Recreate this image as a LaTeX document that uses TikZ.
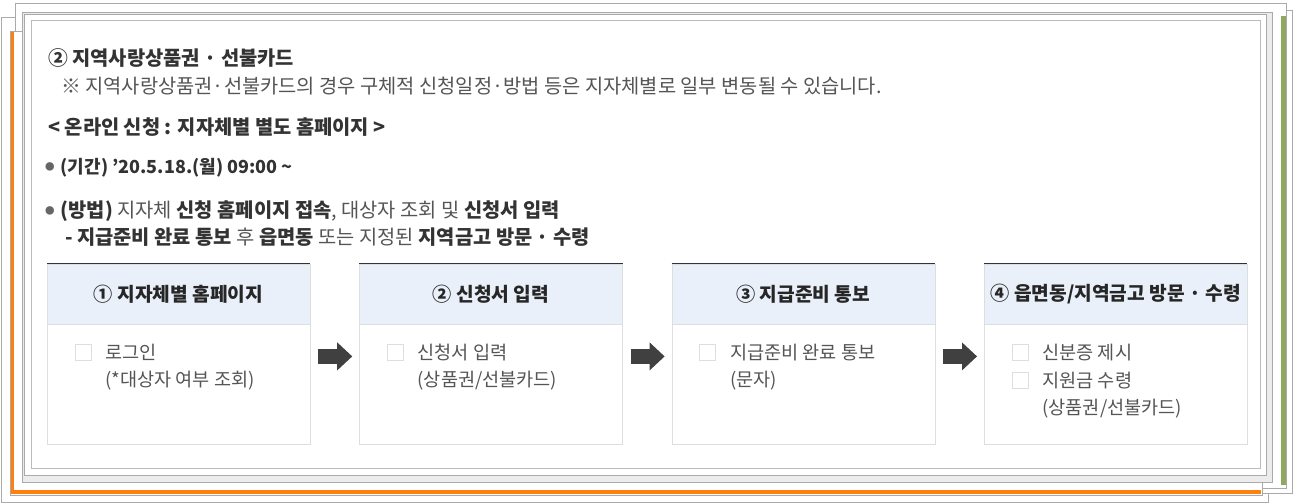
\documentclass[tikz,border=0pt]{standalone}
\usepackage{fontspec}
\setmainfont{Noto Sans CJK KR}
\usetikzlibrary{positioning, arrows.meta}

\definecolor{framegray}{HTML}{AAAAAA}
\definecolor{lightline}{HTML}{DEDEDE}
\definecolor{headblue}{HTML}{E9F0F9}
\definecolor{textdark}{HTML}{333333}
\definecolor{textmid}{HTML}{555555}
\definecolor{bulletgray}{HTML}{666666}
\definecolor{accentorange}{HTML}{FF800E}
\definecolor{accentgreen}{HTML}{8FA862}
\definecolor{arrowgray}{HTML}{404040}

\newcommand{\dotmark}{\raisebox{3pt}{\fontsize{9.5}{9.5}\selectfont\color{bulletgray}●}}

\begin{document}
\begin{tikzpicture}[
    x=1pt, y=-1pt,
    node distance=49pt,
    paper/.style={draw=framegray, fill=white},
    line/.style={anchor=west, inner sep=0pt, font=\fontsize{19.8}{24}\selectfont, text=textdark},
    linebf/.style={line, font=\fontsize{19.8}{24}\selectfont\bfseries},
    head/.style={
        draw=lightline,
        fill=headblue,
        minimum width=263pt,
        minimum height=60pt,
        inner sep=0pt,
        font=\fontsize{19.2}{23}\selectfont\bfseries,
        text=black!85
    },
    body/.style={draw=lightline, fill=white, minimum width=263pt, minimum height=120pt, inner sep=0pt},
    headline/.style={draw=textdark, line width=1.2pt},
    checkbox/.style={draw=lightline, fill=white, minimum size=16pt, inner sep=0pt},
    item/.style={anchor=west, inner sep=0pt, font=\fontsize{18.6}{22}\selectfont, text=textmid},
    blockarrow/.style={draw=arrowgray, line width=15pt, -{Triangle[length=15pt, width=28pt, line width=0pt]}}
]
\useasboundingbox (0,0) rectangle (1293,503);

% stacked sheets behind
\draw[paper] (1,17) rectangle (1268,502);
\draw[paper] (20,10) rectangle (1292,493);
\draw[paper] (15,3) rectangle (1286,488);
\fill[accentgreen] (1281,16) rectangle (1286,485);
\draw[paper] (10,31) rectangle (1262,495);
\fill[accentorange] (11,32) rectangle (14,494);
\fill[accentorange] (11,490) rectangle (1261,494);

% main sheet
\draw[framegray, fill=gray!15] (22,12) rectangle (1272,482);
\draw[framegray, fill=white] (24,14) rectangle (1266,475);
\draw[framegray!80] (31,20) rectangle (1260,468);

% text lines
\node[linebf] (title) at (48,58) {② 지역사랑상품권 · 선불카드};
\node[line, text=textmid] (note) at (61,86) {※ 지역사랑상품권·선불카드의 경우 구체적 신청일정·방법 등은 지자체별로 일부 변동될 수 있습니다.};
\node[linebf] (online) at (48,127) {< 온라인 신청 : 지자체별 별도 홈페이지 >};
\node[linebf, font=\fontsize{18}{22}\selectfont\bfseries] (period) at (45,168) {\dotmark\hspace{6pt}(기간) ’20.5.18.(월) 09:00 \textasciitilde};
\node[linebf] (method) at (45,211) {\dotmark\hspace{6pt}(방법) {\mdseries\color{textmid}지자체} 신청 홈페이지 접속{\mdseries\color{textmid}, 대상자 조회 및} 신청서 입력};
\node[linebf] (sub) at (65,237) {- 지급준비 완료 통보 {\mdseries\color{textmid}후} 읍면동 {\mdseries\color{textmid}또는 지정된} 지역금고 방문 · 수령};

% step panels
\node[head] (head1) at (178.5,294) {① 지자체별 홈페이지};
\node[head, right=of head1] (head2) {② 신청서 입력};
\node[head, right=of head2] (head3) {③ 지급준비 통보};
\node[head, right=of head3] (head4) {④ 읍면동/지역금고 방문 · 수령};

\node[body, below=0pt of head1] (body1) {};
\node[body, below=0pt of head2] (body2) {};
\node[body, below=0pt of head3] (body3) {};
\node[body, below=0pt of head4] (body4) {};

\draw[headline] (head1.north west) -- (head1.north east);
\draw[headline] (head2.north west) -- (head2.north east);
\draw[headline] (head3.north west) -- (head3.north east);
\draw[headline] (head4.north west) -- (head4.north east);

% panel items
\node[checkbox] (chk1) at ([xshift=36pt, yshift=-28pt]body1.north west) {};
\node[item, right=14pt of chk1] (item1) {로그인};
\node[item] (item1b) at ([yshift=-28pt]item1.west) {(*대상자 여부 조회)};

\node[checkbox] (chk2) at ([xshift=36pt, yshift=-28pt]body2.north west) {};
\node[item, right=14pt of chk2] (item2) {신청서 입력};
\node[item] (item2b) at ([yshift=-28pt]item2.west) {(상품권/선불카드)};

\node[checkbox] (chk3) at ([xshift=36pt, yshift=-28pt]body3.north west) {};
\node[item, right=14pt of chk3] (item3) {지급준비 완료 통보};
\node[item] (item3b) at ([yshift=-28pt]item3.west) {(문자)};

\node[checkbox] (chk4) at ([xshift=36pt, yshift=-28pt]body4.north west) {};
\node[item, right=14pt of chk4] (item4) {신분증 제시};
\node[checkbox, below=12pt of chk4] (chk4b) {};
\node[item, right=14pt of chk4b] (item4b) {지원금 수령};
\node[item] (item4c) at ([yshift=-28pt]item4b.west) {(상품권/선불카드)};

% arrows between panels
\draw[blockarrow] ([xshift=8pt, yshift=28pt]body1.east) -- ([xshift=-7pt, yshift=28pt]body2.west);
\draw[blockarrow] ([xshift=8pt, yshift=28pt]body2.east) -- ([xshift=-7pt, yshift=28pt]body3.west);
\draw[blockarrow] ([xshift=8pt, yshift=28pt]body3.east) -- ([xshift=-7pt, yshift=28pt]body4.west);

\end{tikzpicture}
\end{document}
